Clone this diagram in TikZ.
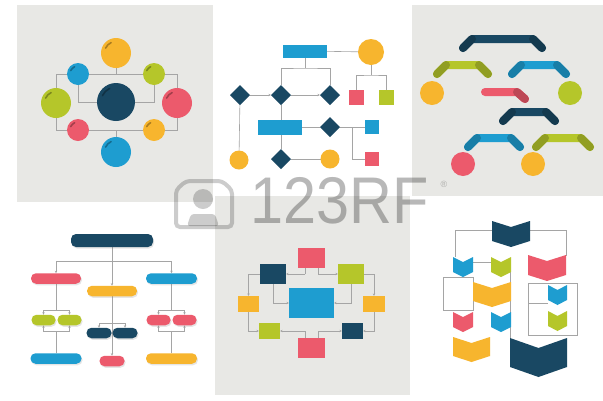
\documentclass[tikz,border=0pt]{standalone}
\usepackage{fontspec}
\setmainfont{Liberation Sans}
\usetikzlibrary{shapes.geometric,arrows.meta,shadows}

\definecolor{navy}{RGB}{25,72,99}
\definecolor{sky}{RGB}{30,157,208}
\definecolor{amber}{RGB}{247,181,46}
\definecolor{lime}{RGB}{181,198,42}
\definecolor{rose}{RGB}{236,90,108}
\definecolor{panelgray}{RGB}{232,232,229}
\definecolor{wiregray}{RGB}{165,165,165}

\pgfdeclarelayer{panels}
\pgfdeclarelayer{wires}
\pgfsetlayers{panels,wires,main}

\begin{document}
\begin{tikzpicture}[
    x=1pt, y=-1pt,
    every node/.style={inner sep=0pt, outer sep=0pt},
    ball/.style={circle, minimum size=#1pt},
    gem/.style={diamond, minimum size=#1pt, fill=navy},
    block/.style={rectangle, minimum width=#1pt},
    pill/.style={rectangle, rounded corners=5pt, minimum height=10.5pt, minimum width=#1pt,
        drop shadow={shadow xshift=1pt, shadow yshift=-1.5pt, opacity=.2}},
    link/.style={draw=wiregray, line width=0.6pt},
    bar/.style={line width=8pt, line cap=round, line join=round},
    gloss/.style={draw=black, opacity=.3, line width=1.6pt, line cap=round},
    >={Stealth[length=2.6pt, width=2.4pt]}
]
\useasboundingbox (0,0) rectangle (603,400);

% Panels
\begin{pgfonlayer}{panels}
\fill[white] (0,0) rectangle (603,400);
\fill[panelgray] (17,5) rectangle (213,202);
\fill[panelgray] (412,5) rectangle (603,196);
\fill[panelgray] (215,196) rectangle (410,395);
\end{pgfonlayer}

% Circle map
\node[ball=38, fill=navy] (hub) at (116,102) {};
\node[ball=30, fill=amber] (top) at (116,53) {};
\node[ball=30, fill=sky] (bottom) at (116,152) {};
\node[ball=30, fill=lime] (west) at (56,103) {};
\node[ball=30, fill=rose] (east) at (177,103) {};
\node[ball=22, fill=sky] (nw) at (78,74) {};
\node[ball=22, fill=lime] (ne) at (154,74) {};
\node[ball=22, fill=rose] (sw) at (78,130) {};
\node[ball=22, fill=amber] (se) at (154,130) {};
\foreach \n/\r in {hub/15, top/11.5, bottom/11.5, west/11.5, east/11.5, nw/8, ne/8, sw/8, se/8}
  \draw[gloss] ([shift={(205:\r)}]\n.center) arc (205:245:\r);

\begin{pgfonlayer}{wires}
\draw[link] (west) |- (nw) -- (ne) -| (east);
\draw[link] (west) |- (sw) -- (se) -| (east);
\draw[link] (top) -- (top |- nw);
\draw[link] (bottom) -- (bottom |- sw);
\draw[link] (nw) |- (hub);
\draw[link] (ne) |- (hub);
\end{pgfonlayer}

% Decision chart
\node[block=44, minimum height=13pt, fill=sky] (head) at (305,51) {};
\node[ball=26, fill=amber] (sun) at (371,52) {};
\node[gem=20] (d1) at (240,95) {};
\node[gem=20] (d2) at (281,95) {};
\node[gem=20] (d3) at (330,95) {};
\node[block=15, minimum height=15pt, fill=rose] (q1) at (356,97) {};
\node[block=15, minimum height=15pt, fill=lime] (q2) at (386,97) {};
\node[block=44, minimum height=15pt, fill=sky] (step2) at (280,127) {};
\node[gem=20] (d4) at (330,127) {};
\node[block=14, minimum height=14pt, fill=sky] (q3) at (372,127) {};
\node[block=14, minimum height=14pt, fill=rose] (q4) at (372,159) {};
\node[ball=19, fill=amber] (end1) at (239,160) {};
\node[gem=20] (d5) at (281,159) {};
\node[ball=19, fill=amber] (end2) at (330,159) {};

\coordinate (split) at (305,68);
\coordinate (fork) at (371,75);
\coordinate (tee) at (352,127);
\begin{pgfonlayer}{wires}
\draw[link] (head) -- (sun);
\draw[link] (head) -- (split);
\draw[link] (d2) |- (split) -| (d3);
\draw[link] (sun) -- (fork);
\draw[link] (q1) |- (fork) -| (q2);
\draw[link, ->] (d1) -- (d2);
\draw[link, ->] (d2) -- (d3);
\draw[link] (d1) -- (end1);
\draw[link] (d2) -- (d5);
\draw[link] (d5) -- (end2);
\draw[link] (step2) -- (d4);
\draw[link] (d4) -- (q3);
\draw[link] (tee) |- (q4);
\end{pgfonlayer}

% Bracket chart
\foreach \a/\b/\t/\c in {463/542/39/navy, 437/488/65/lime, 512/566/65/sky,
                          503/555/112/navy, 468/520/138/sky, 536/590/138/lime}{
  \draw[bar, \c] (\a,\t+9) -- (\a+9,\t) -- (\b-9,\t) -- (\b,\t+9);
  \draw[bar, \c!80!black] (\a,\t+9) -- (\a+9,\t);
  \draw[bar, \c!80!black] (\b-9,\t) -- (\b,\t+9);
}
\draw[bar, rose] (485,92) -- (517,92) -- (525,99);
\draw[bar, rose!80!black] (517,92) -- (525,99);
\node[ball=24, fill=amber] (o1) at (432,93) {};
\node[ball=24, fill=lime] (o2) at (570,93) {};
\node[ball=24, fill=rose] (o3) at (463,164) {};
\node[ball=24, fill=amber] (o4) at (533,164) {};

% Tree chart
\node[pill=82, minimum height=13pt, fill=navy] (root) at (112,240.5) {};
\node[pill=50, fill=rose] (p1) at (56,278.5) {};
\node[pill=50, fill=amber] (p2) at (112,291) {};
\node[pill=51, fill=sky] (p3) at (171.5,278.5) {};
\node[pill=24, fill=lime] (g1) at (43.5,320) {};
\node[pill=24, fill=lime] (g2) at (69.5,320) {};
\node[pill=25, fill=navy] (n1) at (99,333) {};
\node[pill=25, fill=navy] (n2) at (125,333) {};
\node[pill=24, fill=rose] (r1) at (158.5,320) {};
\node[pill=24, fill=rose] (r2) at (184.5,320) {};
\node[pill=51, fill=sky] (b1) at (56,358.5) {};
\node[pill=25, fill=rose] (s1) at (112,361) {};
\node[pill=51, fill=amber] (b3) at (171.5,358.5) {};

\coordinate (t0) at (112,261);
\coordinate (a1) at (56,310);
\coordinate (a2) at (56,331);
\coordinate (t2) at (112,323);
\coordinate (a3) at (171.5,310);
\coordinate (a4) at (171.5,331);
\begin{pgfonlayer}{wires}
\draw[link] (root) -- (t0);
\draw[link, ->] (t0) -| (p1);
\draw[link, ->] (t0) -| (p3);
\draw[link, ->] (t0) -- (p2);
\draw[link] (p1) -- (a1);
\draw[link, ->] (a1) -| (g1);
\draw[link, ->] (a1) -| (g2);
\draw[link] (b1) -- (a2);
\draw[link, ->] (a2) -| (g1);
\draw[link, ->] (a2) -| (g2);
\draw[link] (p2) -- (t2);
\draw[link, ->] (t2) -| (n1);
\draw[link, ->] (t2) -| (n2);
\draw[link, ->] (t2) -- (s1);
\draw[link] (p3) -- (a3);
\draw[link, ->] (a3) -| (r1);
\draw[link, ->] (a3) -| (r2);
\draw[link] (b3) -- (a4);
\draw[link, ->] (a4) -| (r1);
\draw[link, ->] (a4) -| (r2);
\end{pgfonlayer}

% Ring chart
\node[block=27, minimum height=20pt, fill=rose] (c0) at (311.5,258) {};
\node[block=26, minimum height=20pt, fill=navy] (c1) at (273,274) {};
\node[block=26, minimum height=20pt, fill=lime] (c2) at (351,274) {};
\node[block=21, minimum height=16pt, fill=amber] (c3) at (248.5,304) {};
\node[block=45, minimum height=30pt, fill=sky] (core) at (311.5,303) {};
\node[block=22, minimum height=16pt, fill=amber] (c4) at (374,304) {};
\node[block=21, minimum height=16pt, fill=lime] (c5) at (269.5,331) {};
\node[block=21, minimum height=16pt, fill=navy] (c6) at (352.5,331) {};
\node[block=27, minimum height=20pt, fill=rose] (c7) at (311.5,348) {};

\coordinate (k1) at (305,274);
\coordinate (k2) at (318,274);
\coordinate (k3) at (305,331);
\coordinate (k4) at (318,331);
\begin{pgfonlayer}{wires}
\draw[link] (c0.south -| k1) -- (k1);
\draw[link] (c0.south -| k2) -- (k2);
\draw[link, ->] (k1) -- (c1);
\draw[link, ->] (k2) -- (c2);
\draw[link] (c7.north -| k3) -- (k3);
\draw[link] (c7.north -| k4) -- (k4);
\draw[link, ->] (k3) -- (c5);
\draw[link, ->] (k4) -- (c6);
\draw[link, ->] (c1) -| (c3);
\draw[link, ->] (c2) -| (c4);
\draw[link, ->] (c3) |- (c5);
\draw[link, ->] (c4) |- (c6);
\draw[link, ->] (c1) |- (core);
\draw[link, ->] (c2) |- (core);
\end{pgfonlayer}

% Flag chart
\draw[link] (455,257) |- (566,230) -- (566,256);
\draw[link] (473,262) -- (491,262);
\draw[link] (443,277) rectangle (473,310);
\draw[link] (510,262) -- (510,340);
\draw[link] (528,283) rectangle (577,335);
\draw[link] (528,303) -- (548,303);
\foreach \l/\r/\t/\b/\n/\c in {492/530/221/241/6/navy, 453/473/257/272/5/sky,
    491/511/257/272/5/lime, 528/566/255/275/6/rose, 473/511/282/301/6/amber,
    548/567/285/300/5/sky, 453/473/312/327/5/rose, 491/511/312/327/5/sky,
    548/567/311/326/5/lime, 453/490/337/356/6/amber, 510/567/338/367/10/navy}{
  \fill[\c] (\l,\t) -- ({(\l+\r)/2},\t+\n) -- (\r,\t) -- (\r,\b)
      -- ({(\l+\r)/2},\b+\n) -- (\l,\b) -- cycle;
}

% Watermark
\draw[black, opacity=.2, line width=4pt, rounded corners=4pt]
    (176,190) -- (186,181) -- (222,181) -- (232,190) -- (232,227) -- (176,227) -- cycle;
\fill[black, opacity=.2] (203,199) circle (10);
\fill[black, opacity=.2, rounded corners=3pt] (187,226) -- (191,214) -- (215,214) -- (219,226) -- cycle;
\node[text=black, opacity=.28, font=\fontsize{66}{66}\selectfont, xscale=.9] (mark) at (340,201) {123RF};
\node[text=black, opacity=.25, font=\fontsize{9}{9}\selectfont] (regmark) at (444,184) {\textregistered};

\end{tikzpicture}
\end{document}
